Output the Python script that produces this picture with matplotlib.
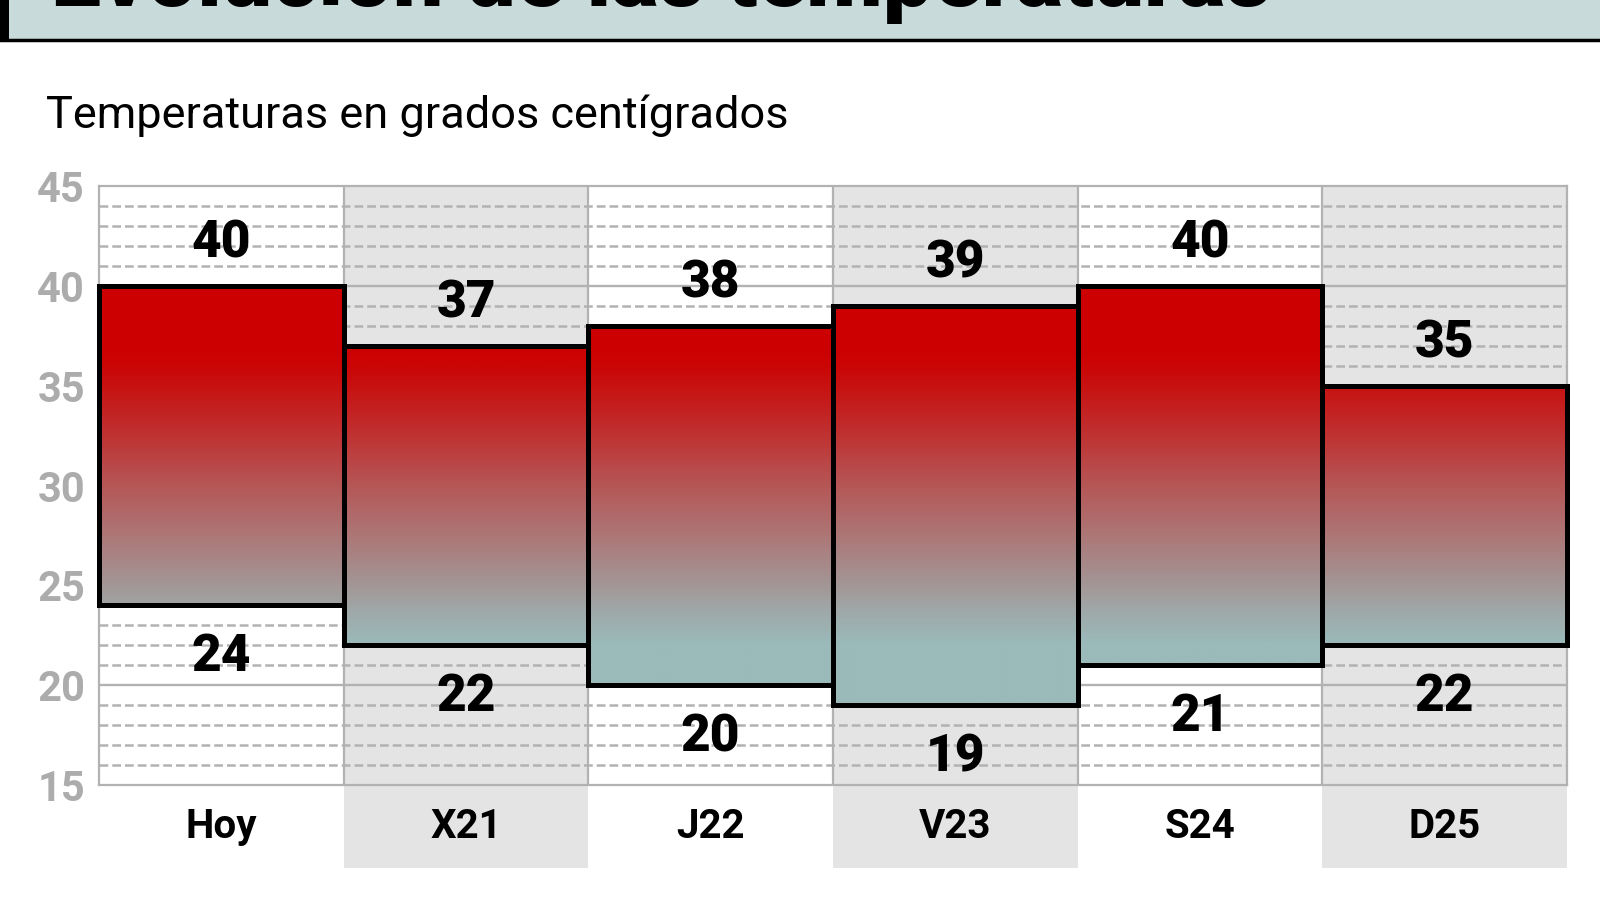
import numpy as np
import matplotlib.pyplot as plt
from matplotlib.patches import Rectangle
from matplotlib.lines import Line2D
from matplotlib.colors import LinearSegmentedColormap, Normalize

# datos
dias = ['Hoy', 'X21', 'J22', 'V23', 'S24', 'D25']
maximas = [40, 37, 38, 39, 40, 35]
minimas = [24, 22, 20, 19, 21, 22]
titulo = 'Evolución de las temperaturas'
subtitulo = 'Temperaturas en grados centígrados'

plt.rcParams['font.family'] = ['Roboto', 'DejaVu Sans']

W, H = 1600, 900
fig = plt.figure(figsize=(16, 9), dpi=100)
ax = fig.add_axes([99 / W, 1 - 785 / H, (1567 - 99) / W, 599 / H])

gris_col = '#e4e4e4'
linea = '#b2b2b2'

# fondos de columnas (y franja de etiquetas debajo)
for i in range(len(dias)):
    color = gris_col if i % 2 else 'white'
    ax.add_patch(Rectangle((i, 0), 1, 1, transform=ax.get_xaxis_transform(),
                           fc=color, ec='none', zorder=0))
    ax.add_patch(Rectangle((i, -0.139), 1, 0.139, transform=ax.get_xaxis_transform(),
                           fc=color, ec='none', clip_on=False, zorder=0))

# rejilla
for v in range(16, 45):
    if v % 5:
        ax.axhline(v, color=linea, lw=1.8, dashes=(3.5, 1.6), zorder=1)
    else:
        ax.axhline(v, color=linea, lw=1.7, zorder=1)
for i in range(1, len(dias)):
    ax.axvline(i, color=linea, lw=1.6, zorder=1)
for s in ax.spines.values():
    s.set_color(linea)
    s.set_linewidth(1.6)

# degradado por temperatura
stops = [(22, '#9bbaba'), (23.5, '#9faaaa'), (25, '#a39696'), (27.5, '#ad7676'),
         (30, '#b65656'), (33, '#c12b2b'), (36, '#cb0505'), (37, '#cc0000')]
cmap = LinearSegmentedColormap.from_list('temp', [((t - 22) / 15, c) for t, c in stops])
norm = Normalize(22, 37)

for i, (lo, hi) in enumerate(zip(minimas, maximas)):
    ys = np.linspace(lo, hi, 300).reshape(-1, 1)
    ax.imshow(ys, extent=(i, i + 1, lo, hi), origin='lower', aspect='auto',
              cmap=cmap, norm=norm, zorder=2, interpolation='bilinear')
    ax.add_patch(Rectangle((i, lo), 1, hi - lo, fc='none', ec='black', lw=3.6,
                           zorder=3, clip_on=False))
    ax.text(i + 0.5, hi + 2.1, str(hi), ha='center', va='center', fontsize=37,
            fontweight='heavy', zorder=4)
    ax.text(i + 0.5, lo - 2.6, str(lo), ha='center', va='center', fontsize=37,
            fontweight='heavy', zorder=4)
    ax.text(i + 0.5, -0.07, dias[i], transform=ax.get_xaxis_transform(),
            ha='center', va='center', fontsize=29, fontweight='bold')

ax.set_xlim(0, len(dias))
ax.set_ylim(15, 45)
ax.set_xticks([])
ax.set_yticks(range(15, 46, 5))
ax.tick_params(axis='y', length=0, pad=10, labelsize=30, labelcolor='#acacac')
for lab in ax.get_yticklabels():
    lab.set_fontweight('bold')

# barra de titulo
fig.add_artist(Rectangle((9 / W, 1 - 40 / H), 1, 0.1, transform=fig.transFigure,
                         fc='#c8dada', ec='none'))
fig.add_artist(Line2D([0, 1], [1 - 40 / H] * 2, transform=fig.transFigure,
                      color='black', lw=2.5))
fig.add_artist(Rectangle((0, 1 - 41 / H), 9 / W, 0.1, transform=fig.transFigure,
                         fc='black', ec='none'))

t1 = fig.text(51 / W, 1 - 6 / H, titulo, fontsize=55, fontweight='heavy',
              va='baseline', ha='left')
t2 = fig.text(46 / W, 1 - 128 / H, subtitulo, fontsize=31, va='baseline', ha='left')

# ajustar anchos de texto
fig.canvas.draw()
for t, ancho in [(t1, 1220), (t2, 743)]:
    w = t.get_window_extent().width
    t.set_fontsize(t.get_fontsize() * ancho / w)

fig.savefig('out.png', dpi=100)
